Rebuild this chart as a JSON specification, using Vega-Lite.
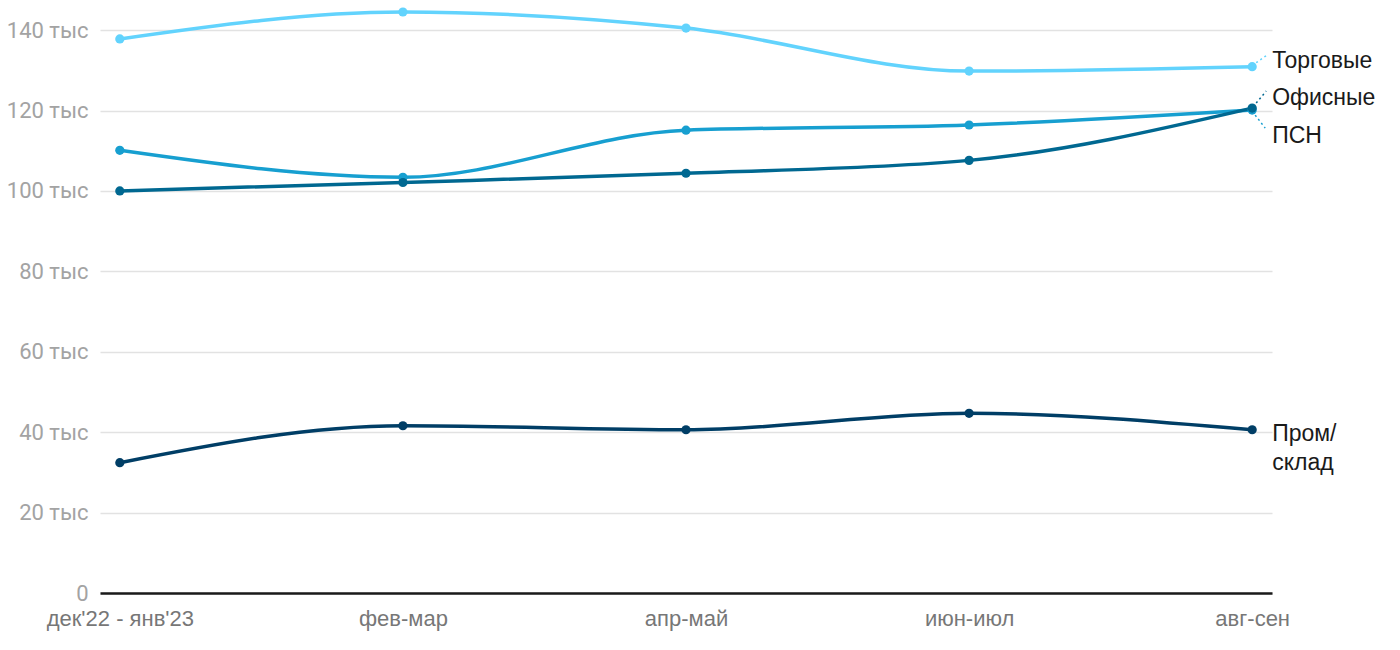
{
  "$schema": "https://vega.github.io/schema/vega-lite/v6.json",
  "width": 1172,
  "height": 583,
  "autosize": "none",
  "padding": {"left": 100, "top": 10, "right": 128, "bottom": 57},
  "background": "white",
  "config": {"view": {"stroke": null}},
  "data": {"values": [
    {"period": "дек'22 - янв'23", "series": "Торговые", "value": 137.8},
    {"period": "фев-мар", "series": "Торговые", "value": 144.5},
    {"period": "апр-май", "series": "Торговые", "value": 140.5},
    {"period": "июн-июл", "series": "Торговые", "value": 129.8},
    {"period": "авг-сен", "series": "Торговые", "value": 130.9},
    {"period": "дек'22 - янв'23", "series": "ПСН", "value": 110.1},
    {"period": "фев-мар", "series": "ПСН", "value": 103.4},
    {"period": "апр-май", "series": "ПСН", "value": 115.1},
    {"period": "июн-июл", "series": "ПСН", "value": 116.4},
    {"period": "авг-сен", "series": "ПСН", "value": 120.1},
    {"period": "дек'22 - янв'23", "series": "Офисные", "value": 100.0},
    {"period": "фев-мар", "series": "Офисные", "value": 102.1},
    {"period": "апр-май", "series": "Офисные", "value": 104.4},
    {"period": "июн-июл", "series": "Офисные", "value": 107.6},
    {"period": "авг-сен", "series": "Офисные", "value": 120.6},
    {"period": "дек'22 - янв'23", "series": "Пром/склад", "value": 32.4},
    {"period": "фев-мар", "series": "Пром/склад", "value": 41.6},
    {"period": "апр-май", "series": "Пром/склад", "value": 40.6},
    {"period": "июн-июл", "series": "Пром/склад", "value": 44.7},
    {"period": "авг-сен", "series": "Пром/склад", "value": 40.6}
  ]},
  "encoding": {
    "x": {
      "field": "period", "type": "ordinal",
      "sort": ["дек'22 - янв'23", "фев-мар", "апр-май", "июн-июл", "авг-сен"],
      "scale": {"type": "point", "padding": 0.07},
      "axis": {
        "title": null, "labelAngle": 0, "ticks": false, "grid": false,
        "domain": true, "domainColor": "#1a1a1a", "domainWidth": 2.5,
        "labelFont": "Liberation Sans", "labelFontSize": 22, "labelColor": "#777777",
        "labelPadding": 15
      }
    },
    "y": {
      "field": "value", "type": "quantitative",
      "scale": {"domain": [0, 145], "nice": false},
      "axis": {
        "title": null, "values": [0, 20, 40, 60, 80, 100, 120, 140],
        "labelExpr": "datum.value == 0 ? '0' : datum.value + ' тыс'",
        "ticks": false, "domain": false, "grid": true, "gridColor": "#e2e2e2", "gridWidth": 1.5,
        "labelFont": "Roboto", "labelFontSize": 22, "labelColor": "#a3a3a3",
        "labelPadding": 12
      }
    },
    "color": {
      "field": "series", "type": "nominal",
      "scale": {
        "domain": ["Торговые", "ПСН", "Офисные", "Пром/склад"],
        "range": ["#62d3fd", "#179fd0", "#006891", "#003e66"]
      },
      "legend": null
    }
  },
  "layer": [
    {"mark": {"type": "line", "interpolate": "monotone", "strokeWidth": 3.5}},
    {"mark": {"type": "circle", "size": 85, "opacity": 1}},
    {
      "transform": [{"filter": "datum.period == 'авг-сен' && datum.series == 'Торговые'"}],
      "mark": {"type": "rule", "strokeDash": [2, 3], "strokeWidth": 1.5, "xOffset": 4, "x2Offset": 14, "yOffset": -4, "y2Offset": -11},
      "encoding": {"x2": {"field": "period"}, "y2": {"field": "value"}}
    },
    {
      "transform": [{"filter": "datum.period == 'авг-сен' && datum.series == 'Офисные'"}],
      "mark": {"type": "rule", "strokeDash": [2, 3], "strokeWidth": 1.5, "xOffset": 4, "x2Offset": 14, "yOffset": -5, "y2Offset": -17},
      "encoding": {"x2": {"field": "period"}, "y2": {"field": "value"}}
    },
    {
      "transform": [{"filter": "datum.period == 'авг-сен' && datum.series == 'ПСН'"}],
      "mark": {"type": "rule", "strokeDash": [2, 3], "strokeWidth": 1.5, "xOffset": 3, "x2Offset": 13, "yOffset": 5, "y2Offset": 18},
      "encoding": {"x2": {"field": "period"}, "y2": {"field": "value"}}
    },
    {
      "transform": [{"filter": "datum.period == 'авг-сен' && datum.series == 'Торговые'"}],
      "mark": {"type": "text", "align": "left", "baseline": "middle", "dx": 20, "dy": -6, "font": "Liberation Sans", "fontSize": 23},
      "encoding": {"text": {"field": "series"}, "color": {"value": "#1a1a1a"}}
    },
    {
      "transform": [{"filter": "datum.period == 'авг-сен' && datum.series == 'Офисные'"}],
      "mark": {"type": "text", "align": "left", "baseline": "middle", "dx": 20, "dy": -10, "font": "Liberation Sans", "fontSize": 23},
      "encoding": {"text": {"field": "series"}, "color": {"value": "#1a1a1a"}}
    },
    {
      "transform": [{"filter": "datum.period == 'авг-сен' && datum.series == 'ПСН'"}],
      "mark": {"type": "text", "align": "left", "baseline": "middle", "dx": 20, "dy": 26, "font": "Liberation Sans", "fontSize": 23},
      "encoding": {"text": {"field": "series"}, "color": {"value": "#1a1a1a"}}
    },
    {
      "transform": [{"filter": "datum.period == 'авг-сен' && datum.series == 'Пром/склад'"}],
      "mark": {"type": "text", "align": "left", "baseline": "middle", "dx": 20, "dy": 4, "font": "Liberation Sans", "fontSize": 23},
      "encoding": {"text": {"value": "Пром/"}, "color": {"value": "#1a1a1a"}}
    },
    {
      "transform": [{"filter": "datum.period == 'авг-сен' && datum.series == 'Пром/склад'"}],
      "mark": {"type": "text", "align": "left", "baseline": "middle", "dx": 20, "dy": 33, "font": "Liberation Sans", "fontSize": 23},
      "encoding": {"text": {"value": "склад"}, "color": {"value": "#1a1a1a"}}
    }
  ]
}
